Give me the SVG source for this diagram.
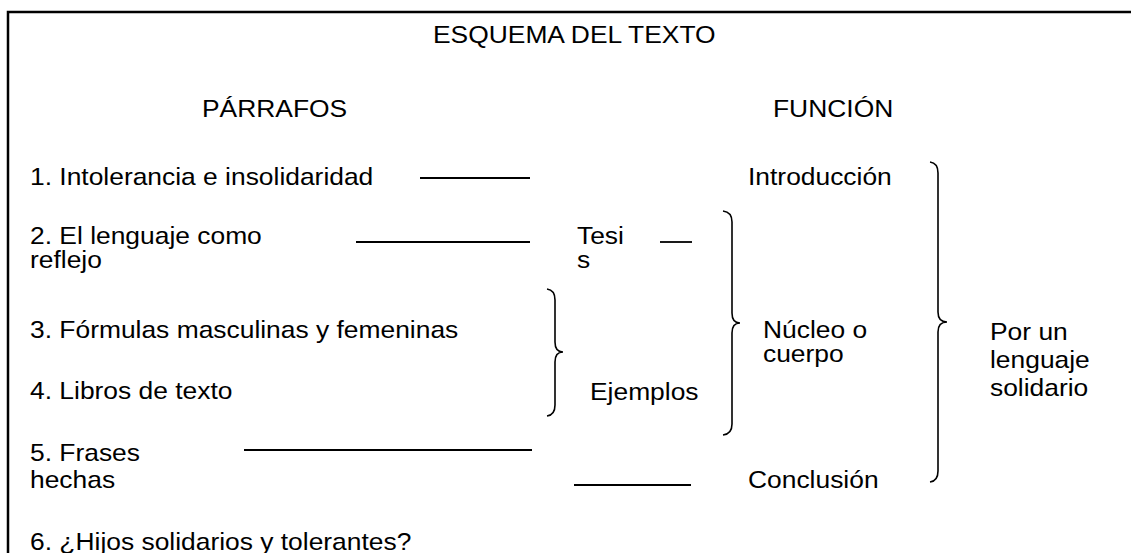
<svg xmlns="http://www.w3.org/2000/svg" width="1131" height="553" viewBox="0 0 1131 553">
<style>
text{font-family:"Liberation Sans",Arial,sans-serif;font-size:24px;fill:#000}
.ln{stroke:#000;stroke-width:1.8;fill:none}
.br{stroke:#000;stroke-width:1.6;fill:none}
</style>
<rect x="0" y="0" width="1131" height="553" fill="#fff"/>
<rect id="frame" x="8" y="12" width="1140" height="560" fill="none" stroke="#000" stroke-width="2.5"/>
<g id="title" transform="translate(433,43) scale(1.1,1)"><text>ESQUEMA DEL TEXTO</text></g>
<g id="parrafos" transform="translate(202,117) scale(1.1,1)"><text>PÁRRAFOS</text></g>
<g id="funcion" transform="translate(773,117) scale(1.1,1)"><text>FUNCIÓN</text></g>
<g id="p1" transform="translate(30,185) scale(1.1,1)"><text>1. Intolerancia e insolidaridad</text></g>
<g id="intro" transform="translate(748,185) scale(1.1,1)"><text>Introducción</text></g>
<g id="p2" transform="translate(30,244) scale(1.1,1)"><text><tspan x="0" y="0">2. El lenguaje como</tspan><tspan x="0" y="24">reflejo</tspan></text></g>
<g id="tesis" transform="translate(577,244) scale(1.1,1)"><text><tspan x="0" y="0">Tesi</tspan><tspan x="0" y="24">s</tspan></text></g>
<g id="p3" transform="translate(30,338) scale(1.1,1)"><text>3. Fórmulas masculinas y femeninas</text></g>
<g id="p4" transform="translate(30,399) scale(1.1,1)"><text>4. Libros de texto</text></g>
<g id="ejemplos" transform="translate(590,400) scale(1.1,1)"><text>Ejemplos</text></g>
<g id="nucleo" transform="translate(763,338) scale(1.1,1)"><text><tspan x="0" y="0">Núcleo o</tspan><tspan x="0" y="24">cuerpo</tspan></text></g>
<g id="tema" transform="translate(990,340) scale(1.1,1)"><text><tspan x="0" y="0">Por un</tspan><tspan x="0" y="28">lenguaje</tspan><tspan x="0" y="56">solidario</tspan></text></g>
<g id="p5" transform="translate(30,461) scale(1.1,1)"><text><tspan x="0" y="0">5. Frases</tspan><tspan x="0" y="27">hechas</tspan></text></g>
<g id="conclusion" transform="translate(748,488) scale(1.1,1)"><text>Conclusión</text></g>
<g id="p6" transform="translate(30,550) scale(1.1,1)"><text>6. ¿Hijos solidarios y tolerantes?</text></g>
<g id="connectors">
<line class="ln" x1="420" y1="178" x2="530" y2="178"/>
<line class="ln" x1="356" y1="242" x2="530" y2="242"/>
<line class="ln" x1="660" y1="242" x2="692" y2="242"/>
<line class="ln" x1="244" y1="450" x2="532" y2="450"/>
<line class="ln" x1="574" y1="485" x2="691" y2="485"/>
<path class="br" d="M547,289 Q555,290 555,300 L555,342 Q555,352 563,352 Q555,352 555,362 L555,405 Q555,415 547,416"/>
<path class="br" d="M723,211 Q732,212 732,222 L732,313 Q732,323 740,323 Q732,323 732,333 L732,424 Q732,434 723,435"/>
<path class="br" d="M930,162 Q938,163 938,173 L938,312 Q938,322 947,322 Q938,322 938,332 L938,471 Q938,481 930,482"/>
</g>
</svg>
